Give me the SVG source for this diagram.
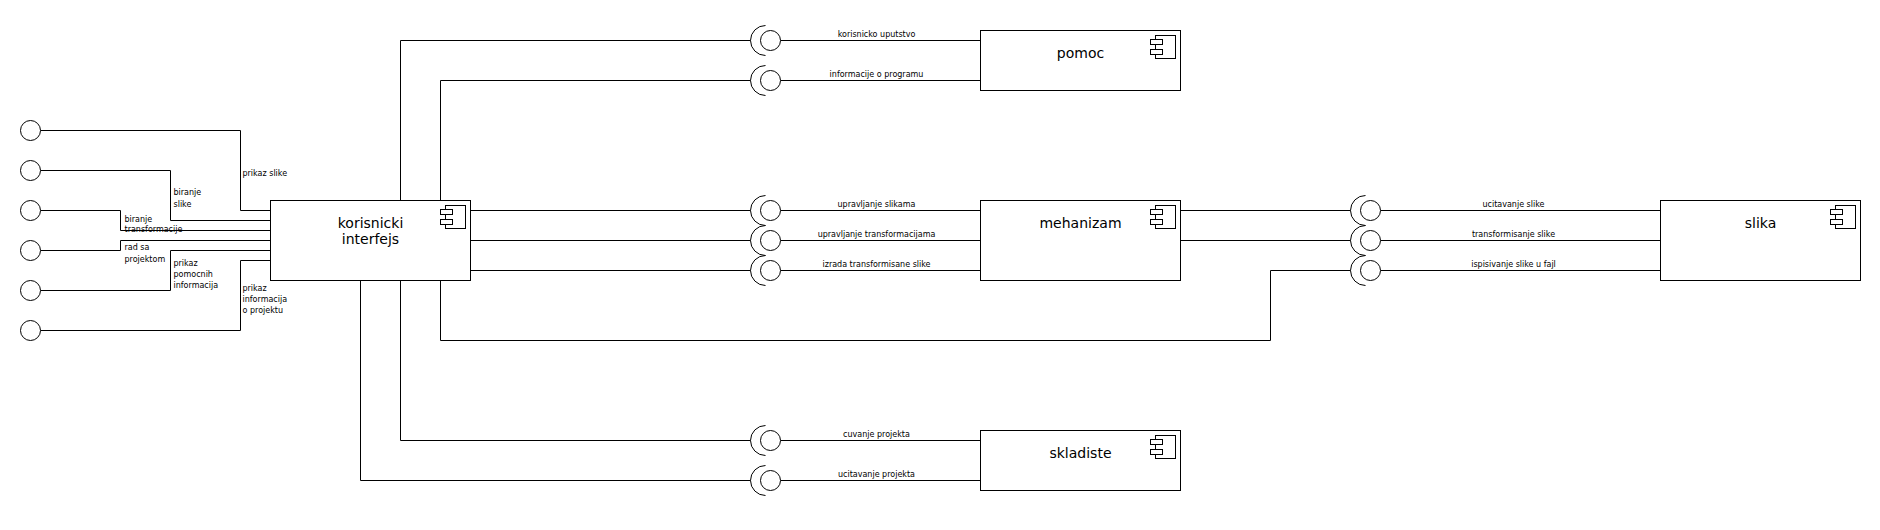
<svg xmlns="http://www.w3.org/2000/svg" width="1880" height="530" viewBox="0 0 1880 530">
<style>
.ln{fill:none;stroke:#000;stroke-width:1}
.box{fill:#fff;stroke:#000;stroke-width:1}
.ic{fill:#fff;stroke:#000;stroke-width:1}
.ball{fill:#fff;stroke:#000;stroke-width:1}
.arc{fill:none;stroke:#000;stroke-width:1}
.big{font-family:"DejaVu Sans","Liberation Sans",sans-serif;font-size:14px;fill:#000;text-anchor:middle}
.sm{font-family:"DejaVu Sans","Liberation Sans",sans-serif;font-size:8px;fill:#000}
.mid{text-anchor:middle}
</style>
<defs>
<g id="icon">
<rect class="ic" x="-25" y="5" width="20" height="23"/>
<rect class="ic" x="-30" y="9" width="12" height="5"/>
<rect class="ic" x="-30" y="19" width="12" height="5"/>
</g>
<g id="socket">
<path class="arc" d="M-5,-15 A15,15 0 0 0 -5,15"/>
<circle class="ball" cx="0" cy="0" r="10"/>
</g>
</defs>
<rect width="1880" height="530" fill="#fff"/>
<g transform="translate(0.5,0.5)">
<g id="connectors">
<path class="ln" d="M40,130 H240 V210 H270"/>
<path class="ln" d="M40,170 H170 V220 H270"/>
<path class="ln" d="M40,210 H120 V230 H270"/>
<path class="ln" d="M40,250 H120 V240 H270"/>
<path class="ln" d="M40,290 H170 V250 H270"/>
<path class="ln" d="M40,330 H240 V260 H270"/>
<path class="ln" d="M400,200 V40 H750"/>
<path class="ln" d="M440,200 V80 H750"/>
<path class="ln" d="M470,210 H750"/>
<path class="ln" d="M470,240 H750"/>
<path class="ln" d="M470,270 H750"/>
<path class="ln" d="M440,280 V340 H1270 V270 H1350"/>
<path class="ln" d="M400,280 V440 H750"/>
<path class="ln" d="M360,280 V480 H750"/>
<path class="ln" d="M780,40 H980"/>
<path class="ln" d="M780,80 H980"/>
<path class="ln" d="M780,210 H980"/>
<path class="ln" d="M780,240 H980"/>
<path class="ln" d="M780,270 H980"/>
<path class="ln" d="M780,440 H980"/>
<path class="ln" d="M780,480 H980"/>
<path class="ln" d="M1180,210 H1350"/>
<path class="ln" d="M1180,240 H1350"/>
<path class="ln" d="M1380,210 H1660"/>
<path class="ln" d="M1380,240 H1660"/>
<path class="ln" d="M1380,270 H1660"/>
<text class="sm" x="242" y="175">prikaz slike</text>
<text class="sm" x="173" y="194">biranje</text>
<text class="sm" x="173" y="206">slike</text>
<text class="sm" x="124" y="221">biranje</text>
<text class="sm" x="124" y="231">transformacije</text>
<text class="sm" x="124" y="249">rad sa</text>
<text class="sm" x="124" y="261">projektom</text>
<text class="sm" x="173" y="265">prikaz</text>
<text class="sm" x="173" y="276">pomocnih</text>
<text class="sm" x="173" y="287">informacija</text>
<text class="sm" x="242" y="290">prikaz</text>
<text class="sm" x="242" y="301">informacija</text>
<text class="sm" x="242" y="312">o projektu</text>
<text class="sm mid" x="876" y="36">korisnicko uputstvo</text>
<text class="sm mid" x="876" y="76">informacije o programu</text>
<text class="sm mid" x="876" y="206">upravljanje slikama</text>
<text class="sm mid" x="876" y="236">upravljanje transformacijama</text>
<text class="sm mid" x="876" y="266">izrada transformisane slike</text>
<text class="sm mid" x="876" y="436">cuvanje projekta</text>
<text class="sm mid" x="876" y="476">ucitavanje projekta</text>
<text class="sm mid" x="1513" y="206">ucitavanje slike</text>
<text class="sm mid" x="1513" y="236">transformisanje slike</text>
<text class="sm mid" x="1513" y="266">ispisivanje slike u fajl</text>
</g>
<g id="iface-left">
<circle class="ball" cx="30" cy="130" r="10"/>
<circle class="ball" cx="30" cy="170" r="10"/>
<circle class="ball" cx="30" cy="210" r="10"/>
<circle class="ball" cx="30" cy="250" r="10"/>
<circle class="ball" cx="30" cy="290" r="10"/>
<circle class="ball" cx="30" cy="330" r="10"/>
</g>
<g id="sockets">
<use href="#socket" x="770" y="40"/>
<use href="#socket" x="770" y="80"/>
<use href="#socket" x="770" y="210"/>
<use href="#socket" x="770" y="240"/>
<use href="#socket" x="770" y="270"/>
<use href="#socket" x="770" y="440"/>
<use href="#socket" x="770" y="480"/>
<use href="#socket" x="1370" y="210"/>
<use href="#socket" x="1370" y="240"/>
<use href="#socket" x="1370" y="270"/>
</g>
<g id="korisnicki-interfejs">
<rect class="box" x="270" y="200" width="200" height="80"/>
<use href="#icon" x="470" y="200"/>
<text class="big" x="370" y="227">korisnicki</text>
<text class="big" x="370" y="243">interfejs</text>
</g>
<g id="pomoc">
<rect class="box" x="980" y="30" width="200" height="60"/>
<use href="#icon" x="1180" y="30"/>
<text class="big" x="1080" y="57">pomoc</text>
</g>
<g id="mehanizam">
<rect class="box" x="980" y="200" width="200" height="80"/>
<use href="#icon" x="1180" y="200"/>
<text class="big" x="1080" y="227">mehanizam</text>
</g>
<g id="slika">
<rect class="box" x="1660" y="200" width="200" height="80"/>
<use href="#icon" x="1860" y="200"/>
<text class="big" x="1760" y="227">slika</text>
</g>
<g id="skladiste">
<rect class="box" x="980" y="430" width="200" height="60"/>
<use href="#icon" x="1180" y="430"/>
<text class="big" x="1080" y="457">skladiste</text>
</g>
</g>
</svg>
